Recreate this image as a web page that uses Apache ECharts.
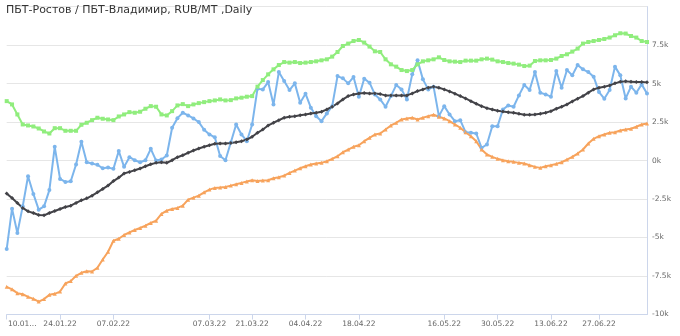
<!DOCTYPE html>
<html>
<head>
<meta charset="utf-8">
<script src="https://cdn.jsdelivr.net/npm/echarts@6/dist/echarts.min.js"></script>
<style>html,body{margin:0;padding:0;background:#fff}#c{width:680px;height:336px}</style>
</head>
<body>
<div id="c"></div>
<script>
const titleText = 'ПБТ-Ростов / ПБТ-Владимир, RUB/MT ,Daily';

const dates = [
'10.01.22','11.01.22','12.01.22','13.01.22','14.01.22',
'17.01.22','18.01.22','19.01.22','20.01.22','21.01.22',
'24.01.22','25.01.22','26.01.22','27.01.22','28.01.22',
'31.01.22','01.02.22','02.02.22','03.02.22','04.02.22',
'07.02.22','08.02.22','09.02.22','10.02.22','11.02.22',
'14.02.22','15.02.22','16.02.22','17.02.22','18.02.22',
'21.02.22','24.02.22','25.02.22','28.02.22',
'01.03.22','02.03.22','03.03.22','04.03.22',
'07.03.22','10.03.22','11.03.22',
'14.03.22','15.03.22','16.03.22','17.03.22','18.03.22',
'21.03.22','22.03.22','23.03.22','24.03.22','25.03.22',
'28.03.22','29.03.22','30.03.22','31.03.22','01.04.22',
'04.04.22','05.04.22','06.04.22','07.04.22','08.04.22',
'11.04.22','12.04.22','13.04.22','14.04.22','15.04.22',
'18.04.22','19.04.22','20.04.22','21.04.22','22.04.22',
'25.04.22','26.04.22','27.04.22','28.04.22','29.04.22',
'04.05.22','05.05.22','06.05.22',
'11.05.22','12.05.22','13.05.22',
'16.05.22','17.05.22','18.05.22','19.05.22','20.05.22',
'23.05.22','24.05.22','25.05.22','26.05.22','27.05.22',
'30.05.22','31.05.22','01.06.22','02.06.22','03.06.22',
'06.06.22','07.06.22','08.06.22','09.06.22','10.06.22',
'13.06.22','15.06.22','16.06.22','17.06.22',
'20.06.22','21.06.22','22.06.22','23.06.22','24.06.22',
'27.06.22','28.06.22','29.06.22','30.06.22','01.07.22',
'04.07.22','05.07.22','06.07.22','07.07.22','08.07.22'
];

const tickLabels = ['10.01.22','24.01.22','07.02.22','07.03.22','21.03.22','04.04.22','18.04.22','16.05.22','30.05.22','13.06.22','27.06.22'];

const spread = [
-5748,-3125,-4707,-2975,-1022,-2168,-3190,-2975,-1920,892,
-1191,-1387,-1348,-260,1217,-111,-195,-280,-501,-456,
-540,620,-410,215,20,-111,20,762,0,65,
326,2129,2754,3105,2930,2734,2500,2000,1693,1510,
300,20,1172,2344,1693,1256,2344,4668,4622,5097,
3646,5748,5162,4577,5013,3756,4342,3431,2884,2558,
3060,3535,5488,5338,5013,5423,4147,5319,5058,4297,
3971,3496,4186,4902,4622,3971,5599,6510,5273,4622,
4798,2884,3535,2995,2558,2624,1842,1803,1758,827,
1042,2233,2233,3320,3581,3496,4232,4902,4577,5748,
4407,4297,4147,5813,4733,5879,5534,6204,5924,5748,
5449,4446,4017,4577,6100,5534,4036,4798,4407,4948,
4362
];

const movingAvg = [
-2148,-2428,-2754,-3079,-3301,-3405,-3535,-3561,-3405,-3275,
-3144,-3014,-2930,-2754,-2584,-2454,-2279,-2064,-1842,-1628,
-1335,-1107,-846,-736,-631,-521,-371,-241,-150,-111,
-150,20,215,345,501,651,781,892,996,1087,
1107,1107,1139,1191,1256,1367,1543,1803,2018,2279,
2454,2624,2780,2845,2884,2949,2995,3060,3105,3170,
3320,3496,3711,3971,4186,4297,4362,4381,4362,4362,
4316,4232,4232,4232,4232,4232,4362,4511,4622,4733,
4798,4733,4622,4492,4342,4186,4036,3860,3691,3535,
3405,3320,3235,3190,3144,3105,3040,2975,2975,2995,
3040,3105,3209,3366,3496,3646,3841,4017,4186,4407,
4622,4733,4798,4883,5013,5123,5143,5123,5097,5097,
5078
];

const upperBand = [
3860,3646,2995,2344,2279,2213,2083,1888,1758,2103,
2103,1933,1933,1933,2324,2454,2624,2780,2715,2669,
2624,2864,2995,3144,3105,3170,3366,3535,3496,2995,
2930,3209,3581,3665,3535,3646,3730,3795,3860,3906,
3971,3906,3925,4036,4082,4147,4186,4798,5227,5599,
5924,6204,6399,6360,6399,6334,6360,6399,6445,6510,
6575,6751,7050,7441,7597,7766,7832,7662,7402,7096,
7050,6575,6250,6100,5879,5813,5879,6250,6445,6510,
6575,6705,6530,6445,6425,6399,6490,6490,6490,6575,
6621,6556,6445,6399,6334,6295,6230,6139,6165,6464,
6510,6510,6530,6621,6790,6901,7076,7272,7597,7701,
7766,7832,7897,7988,8138,8268,8248,8092,7988,7766,
7701
];

const lowerBand = [
-8203,-8365,-8613,-8678,-8854,-8984,-9160,-8997,-8723,-8658,
-8509,-7988,-7832,-7487,-7291,-7194,-7207,-6966,-6425,-5924,
-5208,-5078,-4837,-4668,-4511,-4381,-4232,-4056,-3906,-3470,
-3255,-3144,-3079,-2930,-2539,-2409,-2279,-2064,-1888,-1777,
-1758,-1712,-1628,-1543,-1452,-1367,-1282,-1322,-1302,-1282,
-1152,-1087,-977,-801,-651,-501,-371,-260,-195,-150,
-46,111,280,540,716,892,996,1256,1478,1693,
1758,2018,2279,2454,2669,2734,2780,2669,2780,2884,
2975,2845,2734,2558,2344,2129,1842,1582,1256,716,
391,241,111,20,-46,-85,-150,-195,-306,-410,
-475,-371,-306,-215,-111,65,241,456,716,1107,
1413,1582,1693,1803,1842,1953,2018,2064,2194,2344,
2409
];

const FONT = 'DejaVu Sans';
const chart = echarts.init(document.getElementById('c'), null, {renderer: 'canvas'});
function showTick(idx, val) { return tickLabels.indexOf(val) >= 0; }

function mk(name, data, color, symbol, size) {
  return {
    name: name, type: 'line', data: data,
    symbol: symbol, symbolSize: size, showSymbol: true, showAllSymbol: true,
    lineStyle: {color: color, width: 2},
    itemStyle: {color: color, borderWidth: 0},
    emphasis: {disabled: true},
    z: 2
  };
}

chart.setOption({
  animation: false,
  title: {
    text: titleText, left: 6, top: 5, padding: 0,
    textStyle: {fontFamily: FONT, fontSize: 11, fontWeight: 'normal', color: '#333'}
  },
  grid: {left: 6.7, right: 33, top: 6.6, bottom: 21.5, containLabel: false},
  xAxis: {
    type: 'category', data: dates, boundaryGap: false,
    axisLine: {onZero: false, lineStyle: {color: '#ccd6eb', width: 1}},
    axisTick: {show: true, interval: showTick, length: 5, lineStyle: {color: '#ccd6eb'}},
    axisLabel: {
      interval: showTick, color: '#666', fontFamily: FONT, fontSize: 7.5, margin: 6,
      formatter: function (v, i) { return i === 0 ? '{first|' + v.slice(0, 5) + '...}' : v; },
      rich: {first: {color: '#666', fontFamily: FONT, fontSize: 7.5, padding: [0, 0, 0, 31]}}
    },
    splitLine: {show: false}
  },
  yAxis: {
    type: 'value', position: 'right', min: -10000, max: 10000, interval: 2500,
    axisLine: {show: true, lineStyle: {color: '#ccd6eb', width: 1}},
    axisTick: {show: false},
    splitLine: {show: true, lineStyle: {color: '#e6e6e6', width: 1}},
    axisLabel: {
      showMaxLabel: false, color: '#666', fontFamily: FONT, fontSize: 7.5, margin: 5,
      padding: [0, 0, 6, 0],
      formatter: function (v) { return (v / 1000) + 'k'; }
    }
  },
  series: [
    mk('Спред', spread, '#7cb5ec', 'circle', 4),
    mk('Скользящее среднее', movingAvg, '#434348', 'diamond', 4),
    mk('Верхняя граница', upperBand, '#90ed7d', 'rect', 4),
    mk('Нижняя граница', lowerBand, '#f7a35c', 'triangle', 4)
  ]
});
</script>
</body>
</html>
